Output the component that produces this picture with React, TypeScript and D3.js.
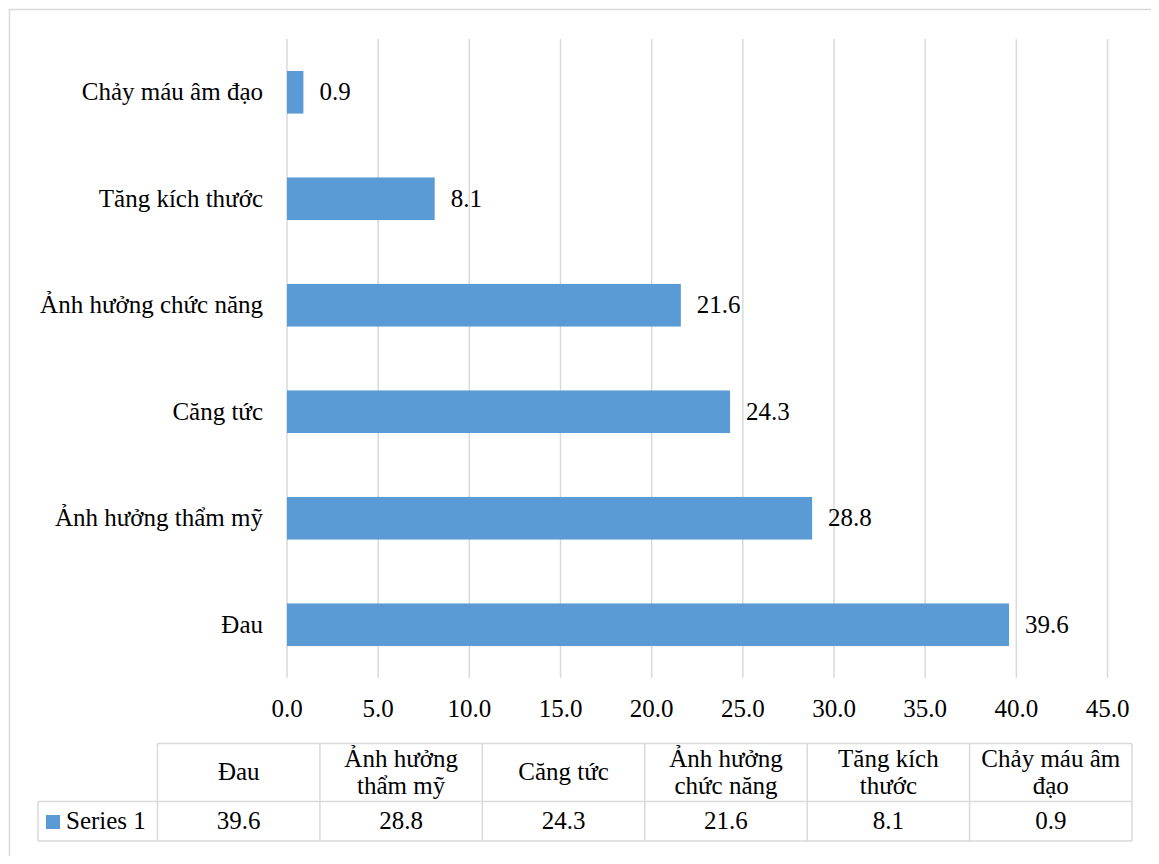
import * as d3 from "d3";

// categories top to bottom as drawn in the bar chart
const categories = ["Chảy máu âm đạo", "Tăng kích thước", "Ảnh hưởng chức năng", "Căng tức", "Ảnh hưởng thẩm mỹ", "Đau"];
const values = [0.9, 8.1, 21.6, 24.3, 28.8, 39.6];
const xTicks = [0, 5, 10, 15, 20, 25, 30, 35, 40, 45];

// data table columns (left to right)
const tableHeaders = [["Đau"], ["Ảnh hưởng", "thẩm mỹ"], ["Căng tức"], ["Ảnh hưởng", "chức năng"], ["Tăng kích", "thước"], ["Chảy máu âm", "đạo"]];
const tableValues = [39.6, 28.8, 24.3, 21.6, 8.1, 0.9];
const seriesName = "Series 1";

const W = 1159, H = 864;
const barColor = "#5b9bd5";
const gridColor = "#d9d9d9";
const font = "Liberation Serif";

function Label(props: any) {
  return <text fontFamily={font} fontSize={25} fill="#000" {...props} />;
}

function App() {
  const x = d3.scaleLinear().domain([0, 45]).range([287, 1107.5]);
  const y = d3.scaleBand().domain(categories).range([39, 678]).paddingInner(0.6).paddingOuter(0.3);
  const colX = d3.scaleBand().domain(tableHeaders.map((_, i) => String(i))).range([157.5, 1132]);
  const top = 743.5, mid = 801.5, bottom = 841;

  return (
    <div style={{ margin: -8 }}>
      <svg width={W} height={H} style={{ display: "block" }}>
        {/* chart area border, runs off the right and bottom */}
        <rect x={9.5} y={9.5} width={W + 20} height={H + 20} fill="#fff" stroke={gridColor} strokeWidth={1.5} />

        {xTicks.map(d => (
          <line key={"g" + d} x1={x(d)} x2={x(d)} y1={39} y2={678} stroke={gridColor} strokeWidth={1.5} />
        ))}
        {xTicks.map(d => (
          <Label key={"t" + d} x={x(d)} y={717} textAnchor="middle">{d.toFixed(1)}</Label>
        ))}

        {values.map((v, i) => (
          <g key={categories[i]}>
            <rect x={x(0)} y={y(categories[i])} width={x(v) - x(0)} height={y.bandwidth()} fill={barColor} />
            <Label x={x(v) + 16} y={y(categories[i])! + y.bandwidth() / 2 + 8}>{v.toFixed(1)}</Label>
            <Label x={263} y={y(categories[i])! + y.bandwidth() / 2 + 8} textAnchor="end">{categories[i]}</Label>
          </g>
        ))}

        {/* data table */}
        <g stroke={gridColor} strokeWidth={1.5}>
          <line x1={157.5} x2={1132} y1={top} y2={top} />
          <line x1={38} x2={1132} y1={mid} y2={mid} />
          <line x1={38} x2={1132} y1={bottom} y2={bottom} />
          <line x1={38} x2={38} y1={mid} y2={bottom} />
          <line x1={1132} x2={1132} y1={top} y2={bottom} />
          {tableHeaders.map((_, i) => (
            <line key={i} x1={colX(String(i))} x2={colX(String(i))} y1={top} y2={bottom} />
          ))}
        </g>
        {tableHeaders.map((rows, i) => {
          const cx = colX(String(i))! + colX.bandwidth() / 2;
          return (
            <g key={"h" + i}>
              <Label textAnchor="middle">
                {rows.map((s, j) => (
                  <tspan key={j} x={cx} y={rows.length === 1 ? 780 : 767 + j * 27}>{s}</tspan>
                ))}
              </Label>
              <Label x={cx} y={829} textAnchor="middle">{tableValues[i].toFixed(1)}</Label>
            </g>
          );
        })}
        <rect x={46} y={815} width={14} height={14} fill={barColor} />
        <Label x={66} y={829}>{seriesName}</Label>
      </svg>
    </div>
  );
}

export default App;
